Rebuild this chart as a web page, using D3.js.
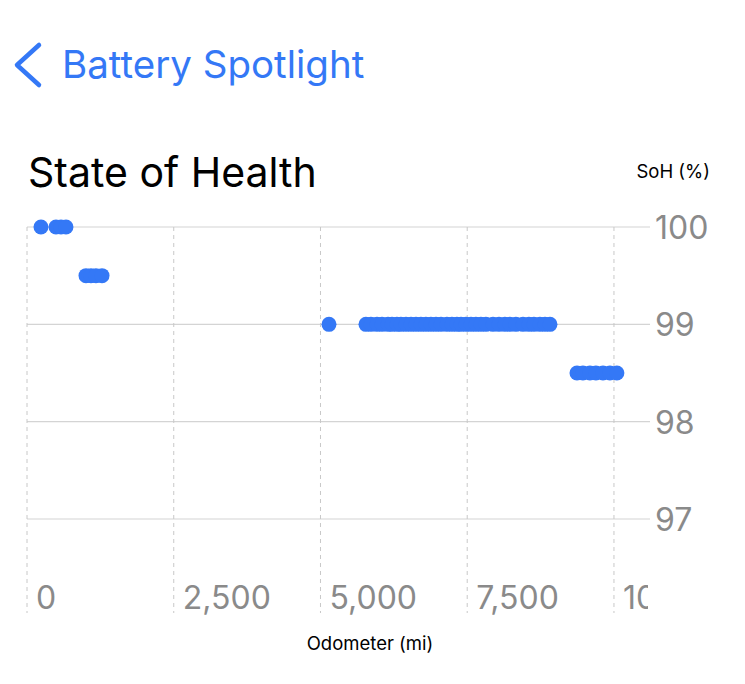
<!DOCTYPE html>
<html>
<head>
<meta charset="utf-8">
<script src="https://cdn.jsdelivr.net/npm/d3@7"></script>
<style>
  body { margin: 0; background: #fff; }
  svg { display: block; font-family: Inter, "Noto Sans", sans-serif; }
</style>
</head>
<body>
<script>
// odometer readings (mi) and state of health (%)
var odometer = [238, 494, 579, 664,
    1005, 1090, 1175, 1278,
    5145, 5775, 5860, 5963, 6048, 6150, 6218, 6303, 6371, 6457, 6542, 6627, 6712, 6797, 6882,
    6968, 7053, 7155, 7240, 7325, 7394, 7479, 7564, 7649, 7734, 7819, 7939, 8041, 8143, 8228,
    8330, 8450, 8552, 8637, 8739, 8825, 8910,
    9370, 9472, 9591, 9693, 9813, 9932, 10050];
var soh = [100, 100, 100, 100,
    99.5, 99.5, 99.5, 99.5,
    99, 99, 99, 99, 99, 99, 99, 99, 99, 99, 99, 99, 99, 99, 99,
    99, 99, 99, 99, 99, 99, 99, 99, 99, 99, 99, 99, 99, 99, 99,
    99, 99, 99, 99, 99, 99, 99,
    98.5, 98.5, 98.5, 98.5, 98.5, 98.5, 98.5];
var xTicks = [0, 2500, 5000, 7500, 10000];
var yTicks = [97, 98, 99, 100];

var width = 745;
var height = 684;
var blue = "#3478F6";

var svg = d3.select("body").append("svg")
    .attr("width", width)
    .attr("height", height);

// header
svg.append("polyline")
    .attr("points", "39,45 17,65 39,85")
    .attr("fill", "none")
    .attr("stroke", blue)
    .attr("stroke-width", 4.5)
    .attr("stroke-linecap", "round")
    .attr("stroke-linejoin", "round");
svg.append("text")
    .attr("x", 62).attr("y", 78)
    .attr("fill", blue)
    .style("font-size", "38.5px")
    .text("Battery Spotlight");

svg.append("text")
    .attr("x", 28).attr("y", 187)
    .attr("fill", "#000")
    .style("font-size", "41px")
    .text("State of Health");

svg.append("text")
    .attr("x", 710).attr("y", 178)
    .attr("text-anchor", "end")
    .style("font-size", "18.5px")
    .text("SoH (%)");

// scales
var x = d3.scaleLinear().domain([0, 10580]).range([27, 648]);
var y = d3.scaleLinear().domain([97, 100]).range([519, 227]);

// horizontal grid
svg.append("g").selectAll("line")
    .data(yTicks).enter().append("line")
    .attr("x1", 27).attr("x2", 650)
    .attr("y1", function (d) { return y(d); })
    .attr("y2", function (d) { return y(d); })
    .attr("stroke", "#d4d4d4")
    .attr("stroke-width", 1.2);

// vertical dashed grid
svg.append("g").selectAll("line")
    .data(xTicks).enter().append("line")
    .attr("x1", function (d) { return x(d); })
    .attr("x2", function (d) { return x(d); })
    .attr("y1", 227).attr("y2", 613)
    .attr("stroke", "#c8c8c8")
    .attr("stroke-width", 1)
    .attr("stroke-dasharray", "4,4");

// y labels
svg.append("g").selectAll("text")
    .data(yTicks).enter().append("text")
    .attr("x", 655)
    .attr("y", function (d) { return y(d) + 12; })
    .attr("fill", "#8a8a8a")
    .style("font-size", "32px")
    .text(function (d) { return d; });

// x labels (clipped at plot edge)
svg.append("clipPath").attr("id", "xclip")
    .append("rect").attr("x", 0).attr("y", 560).attr("width", 648).attr("height", 80);
var fmt = d3.format(",");
svg.append("g").attr("clip-path", "url(#xclip)")
    .selectAll("text")
    .data(xTicks).enter().append("text")
    .attr("x", function (d) { return x(d) + 9; })
    .attr("y", 609)
    .attr("fill", "#8a8a8a")
    .style("font-size", "32px")
    .text(function (d) { return fmt(d); });

svg.append("text")
    .attr("x", 370).attr("y", 650)
    .attr("text-anchor", "middle")
    .style("font-size", "18.5px")
    .text("Odometer (mi)");

// points
svg.append("g").selectAll("circle")
    .data(odometer).enter().append("circle")
    .attr("cx", function (d) { return x(d); })
    .attr("cy", function (d, i) { return y(soh[i]); })
    .attr("r", 7.5)
    .attr("fill", blue);
</script>
</body>
</html>
